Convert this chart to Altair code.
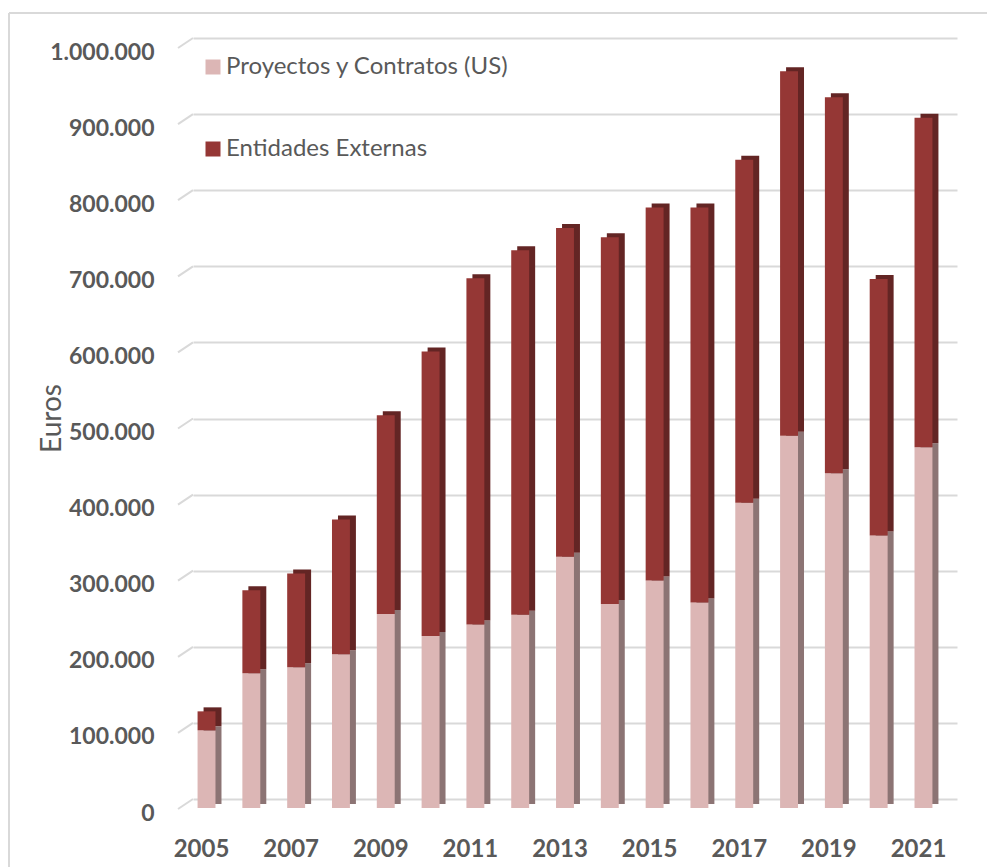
import altair as alt
import pandas as pd

years = [str(y) for y in range(2005, 2022)]
proyectos = [102000, 177000, 185000, 202000, 255000, 226000, 241000, 254000, 330000,
             268000, 299000, 270000, 401000, 489000, 440000, 358000, 474000]
entidades = [25000, 109000, 123000, 177000, 261000, 374000, 455000, 479000, 432000,
             482000, 490000, 519000, 451000, 479000, 494000, 337000, 433000]
series = ["Proyectos y Contratos (US)", "Entidades Externas"]
front_colors = ["#dcb6b5", "#953735"]
side_colors = ["#8c7474", "#632524"]
y_ticks = [0, 100000, 200000, 300000, 400000, 500000, 600000, 700000, 800000, 900000, 1000000]
x_label_years = [str(y) for y in range(2005, 2022, 2)]

rows = []
for i, y in enumerate(years):
    rows.append({"year": y, "serie": series[0], "ord": 0, "value": proyectos[i]})
    rows.append({"year": y, "serie": series[1], "ord": 1, "value": entidades[i]})
df = pd.DataFrame(rows)

FONT = "Lato"
GREY = "#595959"

x_enc = alt.X("year:O", title=None,
              scale=alt.Scale(paddingInner=0.6, paddingOuter=0.325),
              axis=alt.Axis(values=x_label_years, labelAngle=0, domain=False, ticks=False,
                            labelFont=FONT, labelFontSize=24, labelFontWeight="bold",
                            labelColor=GREY, labelBaseline="middle", labelPadding=50,
                            labelOffset=-15, grid=False))
y_scale = alt.Scale(domain=[0, 1000000], nice=False)
y_enc = alt.Y("value:Q", stack="zero", scale=y_scale,
              axis=alt.Axis(values=y_ticks, format=",d", title="Euros",
                            domain=False, ticks=False, grid=True,
                            gridColor="#d9d9d9", gridWidth=2,
                            labelFont=FONT, labelFontSize=23, labelFontWeight="bold",
                            labelColor=GREY, labelPadding=39, labelOffset=14,
                            titleFont=FONT, titleFontSize=28, titleFontWeight="normal",
                            titleColor=GREY, titleAngle=-90, titleX=-141, titleY=380,
                            titleAlign="center", titleBaseline="middle"))

base = alt.Chart(df)

side = base.mark_bar(xOffset=-4, yOffset=5).encode(
    x=x_enc, y=y_enc,
    color=alt.Color("serie:N", scale=alt.Scale(domain=series, range=side_colors), legend=None),
    order=alt.Order("ord:Q"),
)

front = base.mark_bar(xOffset=-10, yOffset=9).encode(
    x=x_enc, y=y_enc,
    color=alt.Color("serie:N", scale=alt.Scale(domain=series, range=front_colors),
                    legend=alt.Legend(title=None, orient="none", legendX=8, legendY=17,
                                      direction="vertical", symbolType="square",
                                      symbolSize=225, symbolStrokeWidth=0,
                                      labelFont=FONT, labelFontSize=24, labelColor=GREY,
                                      labelOffset=1, rowPadding=58, padding=0,
                                      labelLimit=400)),
    order=alt.Order("ord:Q"),
)

grid_df = pd.DataFrame({"v": y_ticks})
slant = alt.Chart(grid_df).mark_rule(color="#d9d9d9", strokeWidth=2, y2Offset=10).encode(
    x=alt.value(0), x2=alt.value(-15),
    y=alt.Y("v:Q", scale=y_scale), y2=alt.Y2("v:Q"),
)

one = pd.DataFrame({"a": [0]})
border_left = alt.Chart(one).mark_rule(color="#d9d9d9", strokeWidth=2).encode(
    x=alt.value(-184), y=alt.value(-25), y2=alt.value(900))
border_top = alt.Chart(one).mark_rule(color="#d9d9d9", strokeWidth=2).encode(
    x=alt.value(-184), x2=alt.value(820), y=alt.value(-25))

chart = alt.layer(border_left, border_top, slant, side, front).resolve_scale(
    color="independent"
).properties(
    width=764, height=761,
    padding={"left": 185, "top": 30, "right": 30, "bottom": 90},
    autosize="none",
).configure(
    locale={"number": {"decimal": ",", "thousands": ".", "grouping": [3], "currency": ["", " €"]}}
).configure_view(stroke=None)

chart.save("out.html", embed_options={"renderer": "svg", "actions": False})
